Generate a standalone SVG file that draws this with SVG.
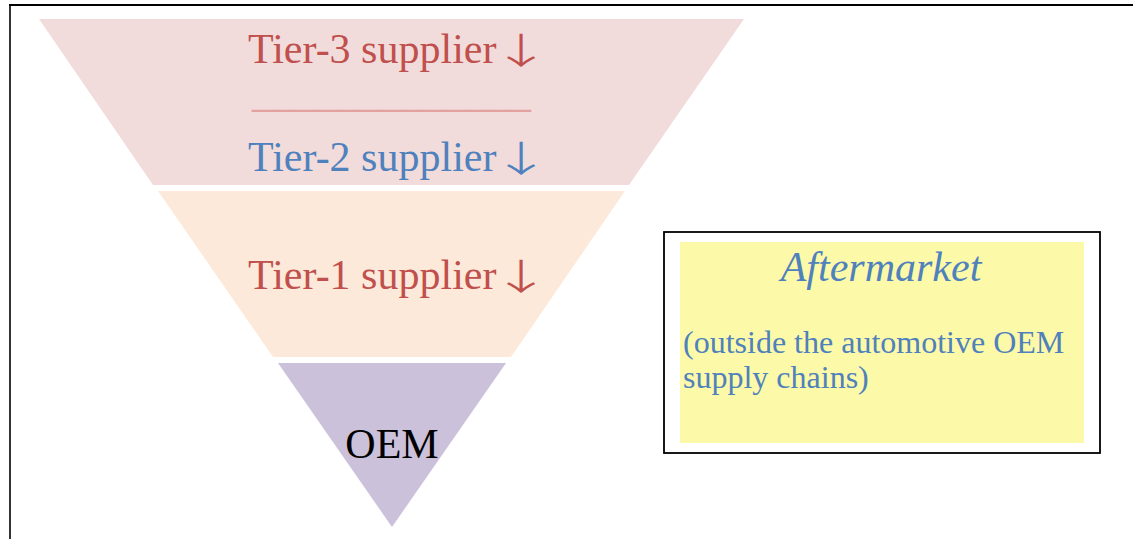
<svg xmlns="http://www.w3.org/2000/svg" width="1133" height="539" viewBox="0 0 1133 539">
<style>
.t{font-family:"Liberation Serif","Times New Roman",serif;}
.red{fill:#C0504D;}
.blue{fill:#4F81BD;}
.arr{font-family:"Noto Sans CJK JP","Noto Sans CJK SC",sans-serif;font-size:36px;font-weight:300;}
</style>
<rect width="1133" height="539" fill="#FFFFFF"/>
<g id="frame" stroke="#000000" fill="none">
<line x1="9" y1="5" x2="1133" y2="5" stroke-width="2.2"/>
<line x1="10" y1="4" x2="10" y2="539" stroke-width="1.6"/>
</g>
<g id="tier3-2">
<polygon points="39,19 744,19 629,185 153,185" fill="#F2DCDB"/>
<text class="t red" x="248" y="63" font-size="42">Tier-3 supplier</text>
<text class="arr red" transform="translate(521,64) scale(1.7,1)" text-anchor="middle">↓</text>
<text class="t" x="252" y="106" font-size="44" fill="#E3A19F" textLength="279" lengthAdjust="spacingAndGlyphs">_____________</text>
<text class="t blue" x="248" y="171" font-size="42">Tier-2 supplier</text>
<text class="arr blue" transform="translate(521,172) scale(1.7,1)" text-anchor="middle">↓</text>
</g>
<g id="tier1">
<polygon points="158,191 625,191 511,357 273,357" fill="#FDE9D9"/>
<text class="t red" x="248" y="289" font-size="42">Tier-1 supplier</text>
<text class="arr red" transform="translate(521,290) scale(1.7,1)" text-anchor="middle">↓</text>
</g>
<g id="oem">
<polygon points="278,363 506,363 392,527" fill="#CCC1DA"/>
<text class="t" x="392" y="458" font-size="42" fill="#000000" text-anchor="middle">OEM</text>
</g>
<g id="aftermarket">
<rect x="664" y="232" width="436" height="221" fill="#FFFFFF" stroke="#000000" stroke-width="1.8"/>
<rect x="680" y="242" width="404" height="201" fill="#FCF9A8"/>
<text class="t blue" x="881" y="281" font-size="42" font-style="italic" text-anchor="middle">Aftermarket</text>
<text class="t blue" x="683" y="353" font-size="32">(outside the automotive OEM</text>
<text class="t blue" x="683" y="388" font-size="32">supply chains)</text>
</g>
<g id="connectors"/>
</svg>
